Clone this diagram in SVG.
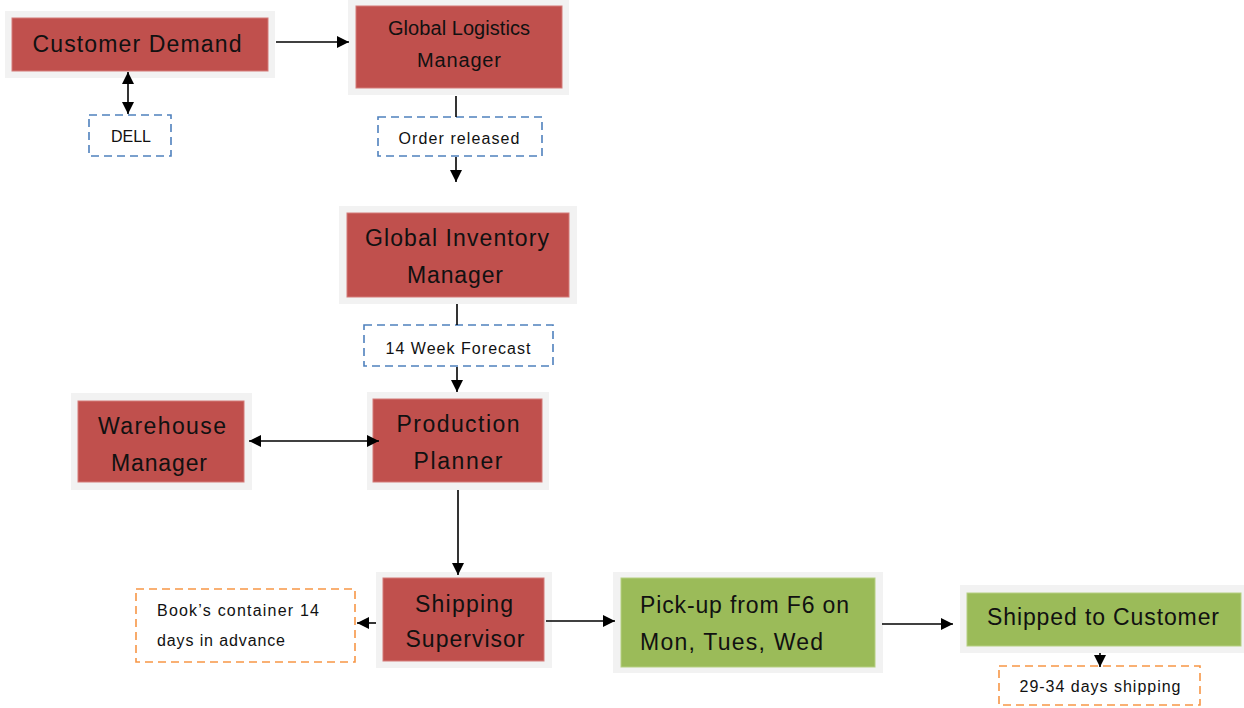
<svg xmlns="http://www.w3.org/2000/svg" width="1244" height="708" viewBox="0 0 1244 708">
<style>
.frame{fill:#F2F2F2;stroke:none}
.red{fill:#C0504D;stroke:#D47A78;stroke-width:1}
.green{fill:#9BBB59;stroke:#B5CF82;stroke-width:1}
.dblue{fill:#FFFFFF;stroke:#4F81BD;stroke-width:1.6;stroke-dasharray:8 5}
.dorange{fill:#FFFFFF;stroke:#F79646;stroke-width:1.6;stroke-dasharray:8 5}
text{font-family:"Liberation Sans",Arial,sans-serif;fill:#111111}
.big{font-size:23px;text-anchor:middle}
.mid{font-size:20px;text-anchor:middle}
.sm{font-size:16px;text-anchor:middle}
.conn line{stroke:#000000;stroke-width:1.6;fill:none}
</style>
<defs>
<marker id="ah" viewBox="0 0 12 12" refX="12" refY="6" markerWidth="12" markerHeight="12" markerUnits="userSpaceOnUse" orient="auto-start-reverse">
<path d="M0,0 L12,6 L0,12 z" fill="#000000"/>
</marker>
</defs>

<g id="customer-demand">
<rect class="frame" x="5" y="11" width="270" height="67"/>
<rect class="red" x="12" y="18" width="256" height="53"/>
<text class="big" x="137" y="52" font-size="24" textLength="209" lengthAdjust="spacing">Customer Demand</text>
</g>

<g id="global-logistics-manager">
<rect class="frame" x="348" y="0" width="221" height="95"/>
<rect class="red" x="356" y="6" width="206" height="82"/>
<text class="mid" x="459" y="35" textLength="142" lengthAdjust="spacing">Global Logistics</text>
<text class="mid" x="459" y="67" textLength="84" lengthAdjust="spacing">Manager</text>
</g>

<g id="dell">
<rect class="dblue" x="89" y="115" width="82" height="41"/>
<text class="sm" x="131" y="142" textLength="40" lengthAdjust="spacing">DELL</text>
</g>

<g id="order-released">
<rect class="dblue" x="378" y="117" width="164" height="39"/>
<text class="sm" x="459" y="144" font-size="15" textLength="121" lengthAdjust="spacing">Order released</text>
</g>

<g id="global-inventory-manager">
<rect class="frame" x="339" y="206" width="238" height="98"/>
<rect class="red" x="347" y="213" width="222" height="84"/>
<text class="big" x="457" y="246" textLength="184" lengthAdjust="spacing">Global Inventory</text>
<text class="big" x="455" y="283" textLength="96" lengthAdjust="spacing">Manager</text>
</g>

<g id="week-forecast">
<rect class="dblue" x="364" y="325" width="189" height="41"/>
<text class="sm" x="458" y="354" textLength="145" lengthAdjust="spacing">14 Week Forecast</text>
</g>

<g id="warehouse-manager">
<rect class="frame" x="71" y="393" width="181" height="97"/>
<rect class="red" x="78" y="401" width="166" height="81"/>
<text class="big" x="162" y="434" textLength="128" lengthAdjust="spacing">Warehouse</text>
<text class="big" x="159" y="471" textLength="96" lengthAdjust="spacing">Manager</text>
</g>

<g id="production-planner">
<rect class="frame" x="367" y="392" width="182" height="98"/>
<rect class="red" x="373" y="399" width="169" height="83"/>
<text class="big" x="458" y="432" textLength="123" lengthAdjust="spacing">Production</text>
<text class="big" x="458" y="469" textLength="89" lengthAdjust="spacing">Planner</text>
</g>

<g id="shipping-supervisor">
<rect class="frame" x="376" y="572" width="176" height="96"/>
<rect class="red" x="383" y="578" width="161" height="83"/>
<text class="big" x="464" y="612" textLength="98" lengthAdjust="spacing">Shipping</text>
<text class="big" x="465" y="647" textLength="119" lengthAdjust="spacing">Supervisor</text>
</g>

<g id="books-container">
<rect class="dorange" x="136" y="589" width="219" height="73"/>
<text x="157" y="616" font-size="16" textLength="162" lengthAdjust="spacing">Book’s container 14</text>
<text x="157" y="646" font-size="16" textLength="128" lengthAdjust="spacing">days in advance</text>
</g>

<g id="pick-up">
<rect class="frame" x="613" y="572" width="270" height="101"/>
<rect class="green" x="621" y="578" width="254" height="89"/>
<text x="640" y="613" font-size="23" textLength="209" lengthAdjust="spacing">Pick-up from F6 on</text>
<text x="640" y="650" font-size="23" textLength="183" lengthAdjust="spacing">Mon, Tues, Wed</text>
</g>

<g id="shipped-to-customer">
<rect class="frame" x="960" y="585" width="284" height="68"/>
<rect class="green" x="967" y="593" width="274" height="53"/>
<text class="big" x="1103" y="625" textLength="232" lengthAdjust="spacing">Shipped to Customer</text>
</g>

<g id="days-shipping">
<rect class="dorange" x="999" y="666" width="201" height="39"/>
<text class="sm" x="1100" y="692" textLength="161" lengthAdjust="spacing">29-34 days shipping</text>
</g>

<g id="connectors" class="conn">
<line x1="276" y1="42" x2="349" y2="42" marker-end="url(#ah)"/>
<line x1="128" y1="72" x2="128" y2="114" marker-start="url(#ah)" marker-end="url(#ah)"/>
<line x1="456" y1="96" x2="456" y2="117"/>
<line x1="456" y1="157" x2="456" y2="182" marker-end="url(#ah)"/>
<line x1="457" y1="304" x2="457" y2="325"/>
<line x1="457" y1="367" x2="457" y2="392" marker-end="url(#ah)"/>
<line x1="249" y1="441" x2="379" y2="441" marker-start="url(#ah)" marker-end="url(#ah)"/>
<line x1="458" y1="490" x2="458" y2="575" marker-end="url(#ah)"/>
<line x1="376" y1="623" x2="357" y2="623" marker-end="url(#ah)"/>
<line x1="546" y1="621" x2="615" y2="621" marker-end="url(#ah)"/>
<line x1="882" y1="624" x2="953" y2="624" marker-end="url(#ah)"/>
<line x1="1100" y1="653" x2="1100" y2="667" marker-end="url(#ah)"/>
</g>
</svg>
